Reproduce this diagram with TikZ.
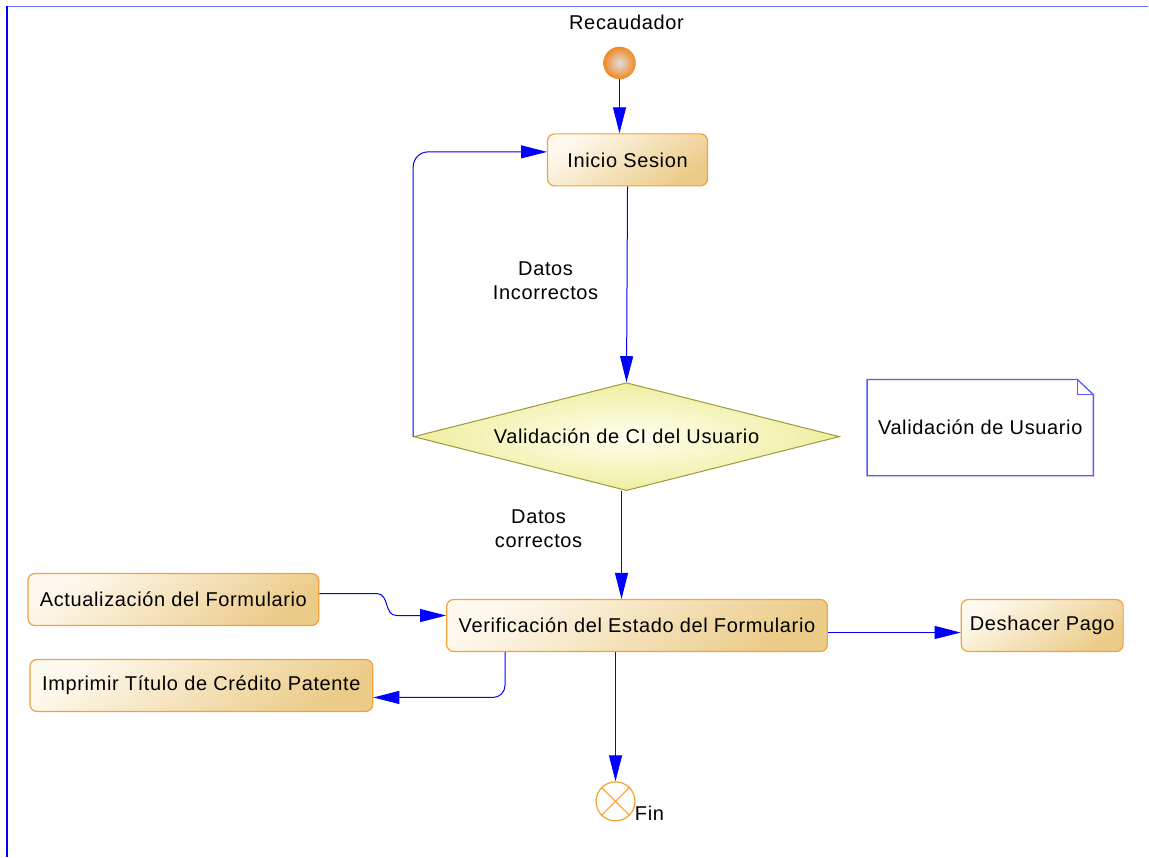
\documentclass[tikz,border=0pt]{standalone}
\usepackage{fontspec}
\setmainfont[LetterSpace=3.2]{Liberation Sans}
\usetikzlibrary{arrows.meta,shapes.geometric}

\definecolor{actlight}{HTML}{FEF9EE}
\definecolor{actdark}{HTML}{EBCB88}
\definecolor{actline}{HTML}{F5A03A}
\definecolor{declight}{HTML}{FFFFF0}
\definecolor{decdark}{HTML}{EEEEA0}
\definecolor{decline}{HTML}{A09838}
\definecolor{frameline}{HTML}{6E6EFF}
\definecolor{startorange}{HTML}{F08A24}

\begin{document}
\begin{tikzpicture}[x=1pt,y=-1pt,>={Triangle[length=26pt,width=13pt]},
                    font=\fontsize{20}{24}\selectfont,
                    act/.style={rectangle,rounded corners=7pt,draw=actline,line width=1.2pt,
                                top color=actlight,bottom color=actdark,shading angle=35,
                                inner sep=0pt,minimum height=52pt},
                    dec/.style={diamond,aspect=3.94,draw=decline,line width=1pt,
                                inner color=declight,outer color=decdark,inner sep=0pt,
                                minimum width=426pt,minimum height=108pt},
                    flow/.style={draw=blue,line width=1pt,->},
                    noteline/.style={draw=blue!65,line width=1.3pt}]
  \fill[white] (0,0) rectangle (1149,858);
  % frame of the swimlane
  \draw[frameline,line width=1.8pt] (7,6.5) -- (1149,6.5);
  \draw[blue,line width=1.3pt] (7,6.5) -- (7,858);
  \node (rec) at (627,22) {Recaudador};
  % start and login
  \node[circle,draw=startorange,inner color=gray!25,outer color=startorange,
        minimum size=32pt,inner sep=0pt] (ini) at (620,63) {};
  \node[act,minimum width=160pt] (inicio) at (628,160) {Inicio Sesion};
  \node[dec] (valid) at (627,437) {Validación de CI del Usuario};
  \node[align=center] (lbinc) at (546,281) {Datos\\Incorrectos};
  \node[align=center] (lbcor) at (539,529) {Datos\\correctos};
  % note
  \node[minimum width=226pt,minimum height=96pt,inner sep=0pt] (note) at (981,428) {Validación de Usuario};
  \draw[noteline] (note.north west) -- ([xshift=-16pt]note.north east) -- ([yshift=-15pt]note.north east)
                  -- (note.south east) -- (note.south west) -- cycle;
  \draw[noteline] ([xshift=-16pt]note.north east) |- ([yshift=-15pt]note.north east);
  % form activities
  \node[act,minimum width=381pt] (verif) at (637.5,626) {Verificación del Estado del Formulario};
  \node[act,minimum width=291pt] (actual) at (173.5,600) {Actualización del Formulario};
  \node[act,minimum width=343pt] (impr) at (201.5,686) {Imprimir Título de Crédito Patente};
  \node[act,minimum width=162pt] (desh) at (1043,626) {Deshacer Pago};
  % end
  \node[circle,draw=actline,line width=1.2pt,fill=white,minimum size=39pt,inner sep=0pt] (fin) at (616,802) {};
  \draw[actline,line width=1pt] (fin.north west) -- (fin.south east) (fin.north east) -- (fin.south west);
  \node (finlbl) at (650,814) {Fin};
  % transitions
  \draw[flow] (ini) -- (ini |- inicio.north);
  \draw[flow] (inicio.south) -- (valid.north);
  \draw[flow,rounded corners=15pt] (valid.west) |- ([yshift=8pt]inicio.west);
  \draw[flow] ([xshift=-5pt]valid.south) -- ([xshift=-5pt]valid.south |- verif.north);
  \coordinate (a1) at (377,594);
  \coordinate (a2) at (397,616);
  \draw[flow] ([yshift=6pt]actual.east) -- (a1) .. controls (390,594) and (384,616) .. (a2) -- (a2 -| verif.west);
  \draw[flow] ([yshift=-7pt]verif.east) -- ([yshift=-7pt]verif.east -| desh.west);
  \draw[flow,rounded corners=12pt] ([xshift=59pt]verif.south west) |- ([yshift=-12pt]impr.east);
  \draw[flow] (fin.north |- verif.south) -- (fin.north);
\end{tikzpicture}
\end{document}
